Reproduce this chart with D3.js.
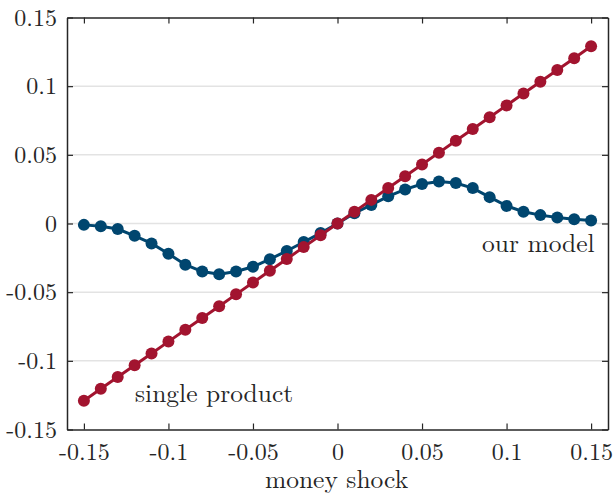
<!DOCTYPE html>
<html>
<head>
<meta charset="utf-8">
<script src="https://cdn.jsdelivr.net/npm/d3@7"></script>
<style>
  html, body { margin: 0; padding: 0; background: #fff; }
  svg { display: block; }
</style>
</head>
<body>
<svg id="chart" width="614" height="495"></svg>
<script>
// Money shock grid
const shocks = [-0.15, -0.14, -0.13, -0.12, -0.11, -0.10, -0.09, -0.08, -0.07, -0.06,
                -0.05, -0.04, -0.03, -0.02, -0.01, 0.00, 0.01, 0.02, 0.03, 0.04,
                0.05, 0.06, 0.07, 0.08, 0.09, 0.10, 0.11, 0.12, 0.13, 0.14, 0.15];

// Response of the multi-product model
const ourModel = [-0.001, -0.002, -0.004, -0.009, -0.0145, -0.022, -0.030, -0.035, -0.037, -0.035,
                  -0.0315, -0.026, -0.020, -0.0135, -0.007, 0.000, 0.0075, 0.0135, 0.0198, 0.0248,
                  0.0287, 0.0305, 0.0295, 0.0258, 0.0192, 0.0128, 0.0086, 0.0061, 0.0044, 0.0031, 0.0021];

// Response of the single-product model
const singleProduct = [-0.129, -0.1204, -0.1118, -0.1032, -0.0946, -0.086, -0.0774, -0.0688, -0.0602, -0.0516,
                       -0.043, -0.0344, -0.0258, -0.0172, -0.0086, 0.000, 0.0086, 0.0172, 0.0258, 0.0344,
                       0.043, 0.0516, 0.0602, 0.0688, 0.0774, 0.086, 0.0946, 0.1032, 0.1118, 0.1204, 0.129];

const xTicks = [-0.15, -0.1, -0.05, 0, 0.05, 0.1, 0.15];
const yTicks = [-0.15, -0.1, -0.05, 0, 0.05, 0.1, 0.15];
const xTickLabels = ["-0.15", "-0.1", "-0.05", "0", "0.05", "0.1", "0.15"];
const yTickLabels = ["-0.15", "-0.1", "-0.05", "0", "0.05", "0.1", "0.15"];

const blue = "#00466f";
const red = "#a2142f";
const serif = "'Latin Modern Roman', 'Liberation Serif', serif";
const ink = "#262626";

const svg = d3.select("#chart");
const plotLeft = 67, plotRight = 608, plotTop = 17.5, plotBottom = 429.5;

const x = d3.scaleLinear().domain([-0.16, 0.16]).range([plotLeft, plotRight]);
const y = d3.scaleLinear().domain([-0.15, 0.15]).range([plotBottom, plotTop]);

// horizontal grid
svg.append("g").selectAll("line")
  .data(yTicks.slice(1, -1))
  .join("line")
  .attr("x1", plotLeft).attr("x2", plotRight)
  .attr("y1", d => y(d)).attr("y2", d => y(d))
  .attr("stroke", "#e3e3e3").attr("stroke-width", 1.5);

// series
const line = d3.line().x(d => x(d[0])).y(d => y(d[1]));
function drawSeries(vals, color) {
  const pts = shocks.map((s, i) => [s, vals[i]]);
  const g = svg.append("g");
  g.append("path").datum(pts).attr("d", line)
    .attr("fill", "none").attr("stroke", color).attr("stroke-width", 3);
  g.selectAll("circle").data(pts).join("circle")
    .attr("cx", d => x(d[0])).attr("cy", d => y(d[1])).attr("r", 6)
    .attr("fill", color);
}
drawSeries(ourModel, blue);
drawSeries(singleProduct, red);

// axes (box with inward ticks on all sides)
const gB = svg.append("g").attr("transform", `translate(0,${plotBottom})`)
  .call(d3.axisBottom(x).tickValues(xTicks).tickSizeInner(-6).tickSizeOuter(0)
    .tickPadding(15).tickFormat((d, i) => xTickLabels[i]));
const gT = svg.append("g").attr("transform", `translate(0,${plotTop})`)
  .call(d3.axisTop(x).tickValues(xTicks).tickSizeInner(-6).tickSizeOuter(0).tickFormat(""));
const gL = svg.append("g").attr("transform", `translate(${plotLeft},0)`)
  .call(d3.axisLeft(y).tickValues(yTicks).tickSizeInner(-6).tickSizeOuter(0)
    .tickPadding(10).tickFormat((d, i) => yTickLabels[i]));
const gR = svg.append("g").attr("transform", `translate(${plotRight},0)`)
  .call(d3.axisRight(y).tickValues(yTicks).tickSizeInner(-6).tickSizeOuter(0).tickFormat(""));

[gB, gT, gL, gR].forEach(g => {
  g.select(".domain").attr("stroke", ink).attr("stroke-width", 1.5);
  g.selectAll(".tick line").attr("stroke", ink).attr("stroke-width", 1.2);
  g.selectAll("text").style("font-family", serif).style("font-size", "24px").attr("fill", ink);
});
gB.selectAll(".tick text").attr("dy", "0.66em");
gL.selectAll(".tick text").attr("dy", "0.32em");

// series labels
function label(txt, px, py, anchor, size) {
  svg.append("text").attr("x", px).attr("y", py)
    .attr("text-anchor", anchor).attr("fill", ink)
    .style("font-family", serif).style("font-size", size + "px")
    .text(txt);
}
label("our model", 482, 251.5, "start", 25.5);
label("single product", 135, 401.5, "start", 25.5);

// x-axis title
label("money shock", 336.5, 487.5, "middle", 25.5);
</script>
</body>
</html>
